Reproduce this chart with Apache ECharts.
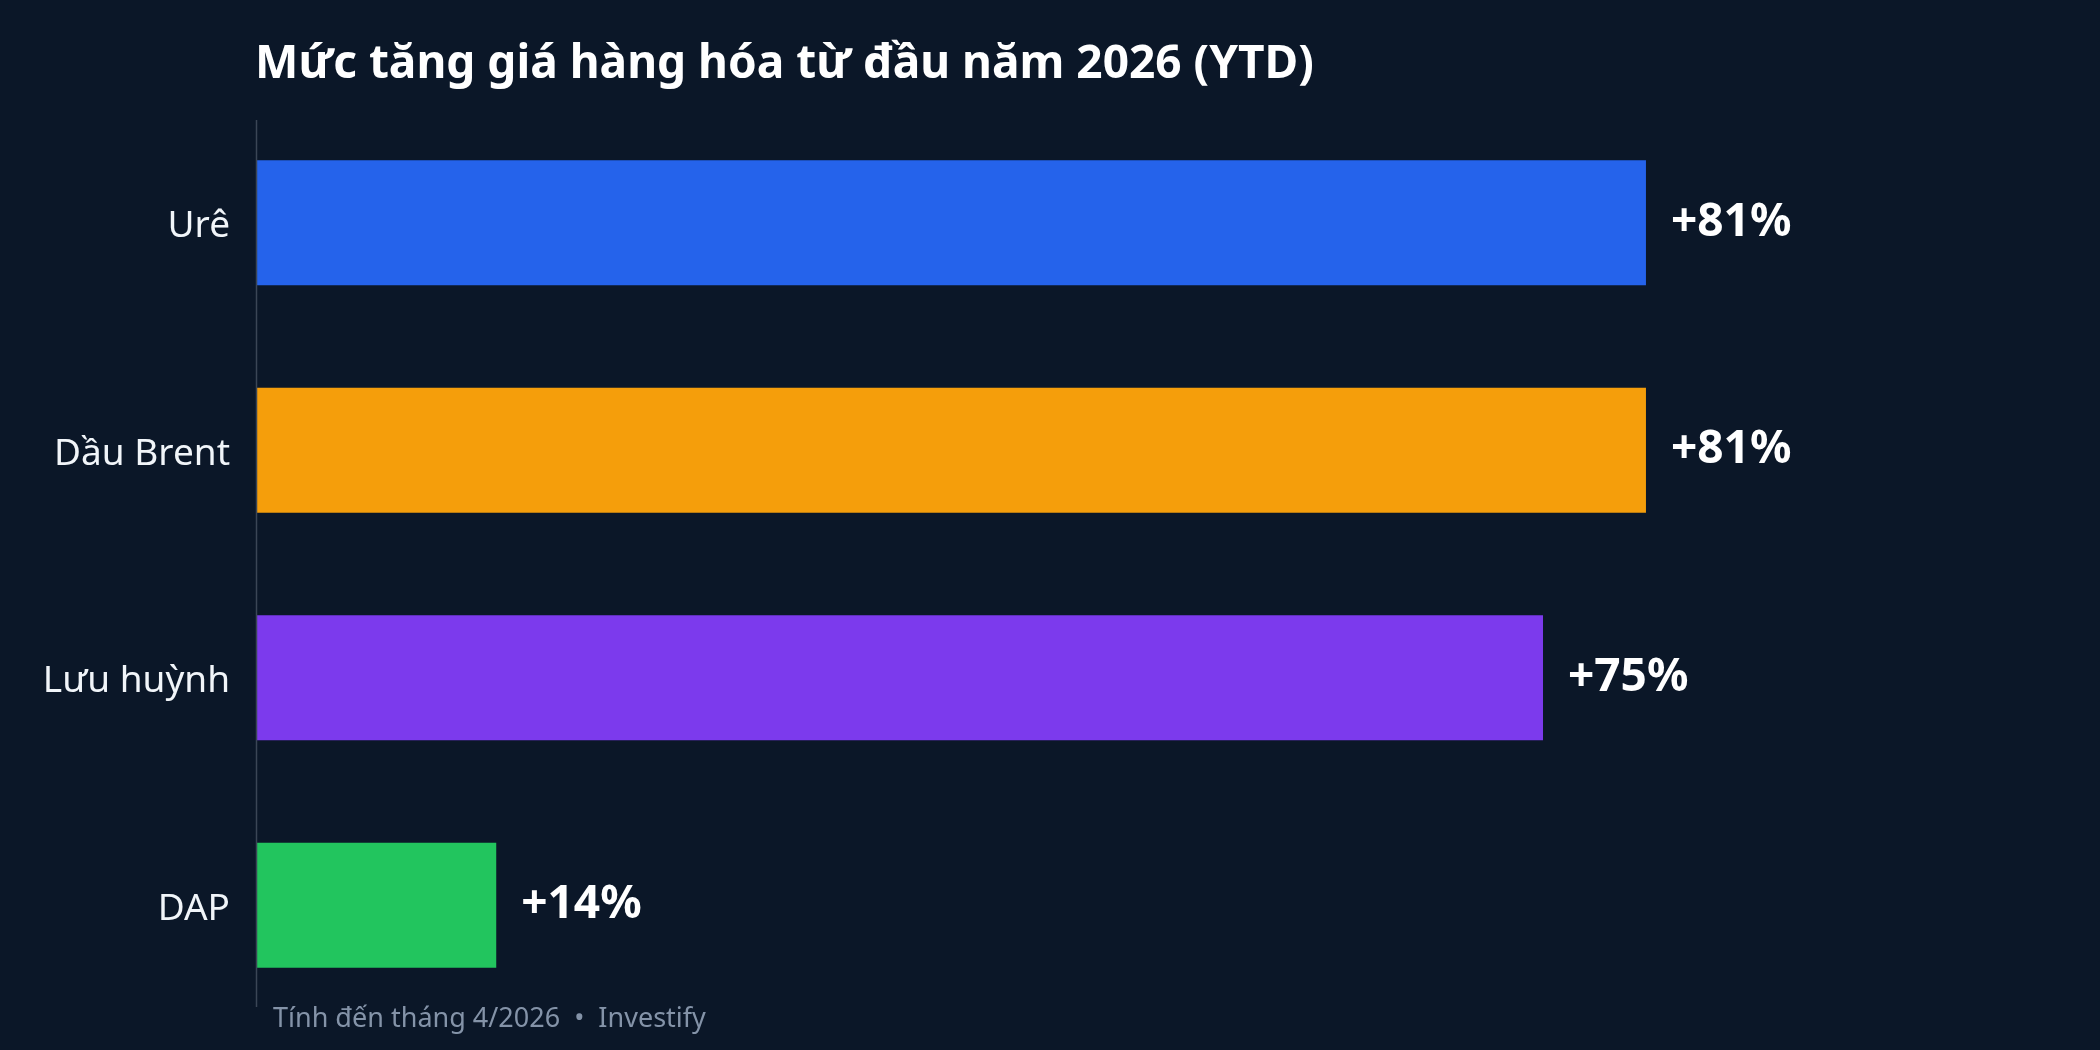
<!DOCTYPE html>
<html>
<head>
<meta charset="utf-8">
<script src="https://cdn.jsdelivr.net/npm/echarts@6/dist/echarts.min.js"></script>
<style>
html,body{margin:0;padding:0;background:#0b1728;}
#chart{width:2100px;height:1050px;}
</style>
</head>
<body>
<div id="chart"></div>
<script>
const categories = ["Urê", "Dầu Brent", "Lưu huỳnh", "DAP"];
const values = [81, 81, 75, 14];
const colors = ["#2563eb", "#f59e0b", "#7c3aed", "#22c55e"];
const titleText = "Mức tăng giá hàng hóa từ đầu năm 2026 (YTD)";
const footerText = "Tính đến tháng 4/2026  •  Investify";

const chart = echarts.init(document.getElementById('chart'), null, {renderer: 'canvas'});
const option = {
  backgroundColor: '#0b1728',
  animation: false,
  title: {
    text: titleText,
    left: 250,
    top: 37,
    textStyle: {color: '#ffffff', fontFamily: 'Noto Sans', fontWeight: 'bold', fontSize: 46}
  },
  graphic: [
    {type: 'line', shape: {x1: 256.5, y1: 120, x2: 256.5, y2: 1007}, style: {stroke: '#3b4656', lineWidth: 1.5}, z: 10},
    {type: 'text', left: 273, top: 1006, style: {text: footerText, fill: '#8493a8', font: '27px "Noto Sans"'}}
  ],
  grid: {left: 256, right: 128, top: 109, bottom: 31, containLabel: false},
  xAxis: {
    type: 'value', min: 0, max: 100, show: false,
    splitLine: {show: false}
  },
  yAxis: {
    type: 'category', data: categories, inverse: true,
    axisLine: {show: false}, axisTick: {show: false},
    axisLabel: {
      margin: 26,
      formatter: v => '{c|' + v + '}',
      rich: {c: {color: '#f1f5f9', fontFamily: 'Noto Sans', fontSize: 37, padding: [8, 0, 0, 0]}}
    }
  },
  series: [{
    type: 'bar',
    data: values.map((v, i) => ({value: v, itemStyle: {color: colors[i]}})),
    barCategoryGap: '45%',
    label: {
      show: true, position: 'right', distance: 25,
      formatter: p => '+' + p.value + '%',
      color: '#ffffff', fontFamily: 'Noto Sans', fontWeight: 'bold', fontSize: 46
    }
  }]
};
chart.setOption(option);
</script>
</body>
</html>
